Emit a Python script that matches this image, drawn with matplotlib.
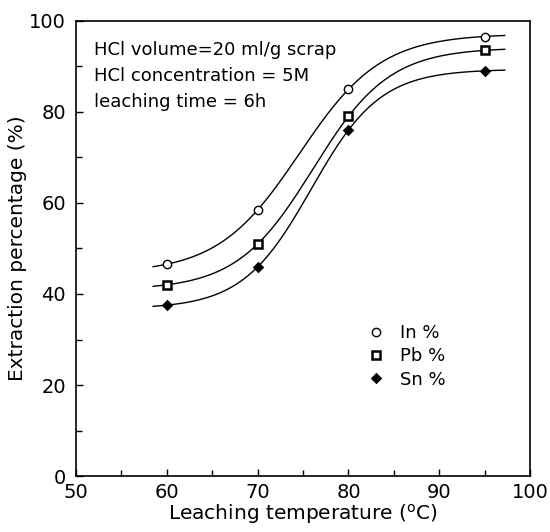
import numpy as np
import matplotlib
matplotlib.use("Agg")
from matplotlib import pyplot as plt
from matplotlib.ticker import MultipleLocator

# leaching temperature (C) and extraction (%)
temps = [60, 70, 80, 95]
in_pct = [46.5, 58.5, 85.0, 96.5]
pb_pct = [42.0, 51.0, 79.0, 93.5]
sn_pct = [37.5, 46.0, 76.0, 89.0]

notes = ["HCl volume=20 ml/g scrap",
         "HCl concentration = 5M",
         "leaching time = 6h"]


def fit_logistic(x, y):
    # y = a + b / (1 + exp(-(x - c) / d)), a,b linear for fixed c,d
    x = np.asarray(x, float)
    y = np.asarray(y, float)
    best = None
    for c in np.linspace(68, 88, 201):
        for d in np.linspace(1.5, 10, 86):
            s = 1.0 / (1.0 + np.exp(-(x - c) / d))
            A = np.column_stack([np.ones_like(x), s])
            coef, res, _, _ = np.linalg.lstsq(A, y, rcond=None)
            err = np.sum((A @ coef - y) ** 2)
            if best is None or err < best[0]:
                best = (err, coef[0], coef[1], c, d)
    _, a, b, c, d = best
    return lambda t: a + b / (1.0 + np.exp(-(t - c) / d))


plt.rcParams['font.family'] = ['DejaVu Sans']
fig = plt.figure(figsize=(5.5, 5.32), dpi=100)
ax = fig.add_axes([0.138, 0.105, 0.826, 0.856])

xs = np.linspace(58.5, 97.2, 300)
series = [
    (in_pct, "o", "white", "In %"),
    (pb_pct, "s", "white", "Pb %"),
    (sn_pct, "D", "black", "Sn %"),
]
handles = []
for vals, mk, fc, lab in series:
    f = fit_logistic(temps, vals)
    ax.plot(xs, f(xs), color="black", lw=1.0)
    ms = 6 if mk != "D" else 4.5
    mew = 1.0 if mk == "o" else 1.8
    h, = ax.plot(temps, vals, linestyle="none", marker=mk, ms=ms,
                 mfc=fc, mec="black", mew=mew, label=lab)
    handles.append(h)

ax.set_xlim(50, 100)
ax.set_ylim(0, 100)
ax.xaxis.set_major_locator(MultipleLocator(10))
ax.xaxis.set_minor_locator(MultipleLocator(5))
ax.yaxis.set_major_locator(MultipleLocator(20))
ax.yaxis.set_minor_locator(MultipleLocator(10))
ax.tick_params(which="both", direction="in", labelsize=14, width=1.0)
ax.tick_params(which="major", length=5)
ax.tick_params(which="minor", length=4, labelleft=False, labelbottom=False)
ax.tick_params(axis="y", pad=7)
ax.tick_params(axis="x", pad=5)
for sp in ax.spines.values():
    sp.set_linewidth(1.2)

ax.set_xlabel("Leaching temperature ($^{\\rm o}$C)", fontsize=14.5, labelpad=0)
ax.set_ylabel("Extraction percentage (%)", fontsize=14.5, labelpad=2)

for i, t in enumerate(notes):
    ax.text(0.04, 0.936 - i * 0.057, t, transform=ax.transAxes,
            fontsize=13, va="center", ha="left")

ax.legend(handles=handles, loc="upper left", bbox_to_anchor=(0.605, 0.37),
          frameon=False, fontsize=13, handletextpad=0.8,
          labelspacing=0.3, handlelength=1.0)

fig.savefig("out.png", dpi=100)
